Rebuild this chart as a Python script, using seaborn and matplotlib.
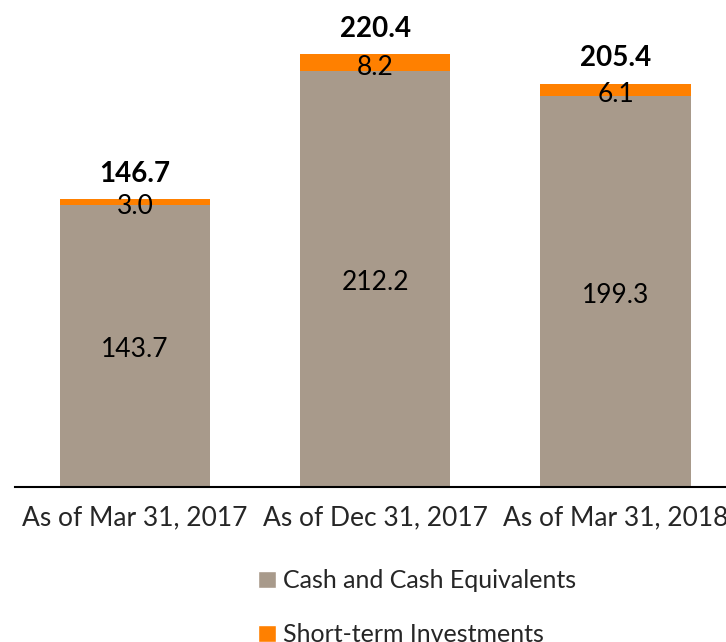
import matplotlib
matplotlib.use("Agg")
import matplotlib.pyplot as plt
import seaborn as sns
import pandas as pd
from matplotlib.patches import Patch

categories = ["As of Mar 31, 2017", "As of Dec 31, 2017", "As of Mar 31, 2018"]
cash = [143.7, 212.2, 199.3]
short_term = [3.0, 8.2, 6.1]
totals = [146.7, 220.4, 205.4]

cash_color = "#A89A8B"
st_color = "#FF8000"

sns.set_style("white")
plt.rcParams["font.family"] = ["Lato", "DejaVu Sans"]

df = pd.DataFrame({"period": categories, "cash": cash, "short_term": short_term, "total": totals})

fig = plt.figure(figsize=(7.26, 6.42), dpi=100)
ax = fig.add_axes([14.75 / 726, 155 / 642, 721 / 726, 471 / 642])

sns.barplot(data=df, x="period", y="total", color=st_color, width=0.625, saturation=1,
            linewidth=0, ax=ax)
sns.barplot(data=df, x="period", y="cash", color=cash_color, width=0.625, saturation=1,
            linewidth=0, ax=ax)

for i in range(len(categories)):
    ax.text(i, cash[i] / 2 - 2, f"{cash[i]:.1f}", ha="center", va="center", fontsize=19, color="black")
    ax.text(i, cash[i] + short_term[i] / 2 - 2.5, f"{short_term[i]:.1f}", ha="center", va="center", fontsize=19, color="black")
    ax.text(i, totals[i] + 13, f"{totals[i]:.1f}", ha="center", va="center", fontsize=20, fontweight="bold", color="black")

ax.set_xlim(-0.5, 2.5)
ax.set_ylim(0, 240)
ax.set_xlabel("")
ax.set_ylabel("")
ax.set_yticks([])
ax.tick_params(axis="x", length=0, pad=13, labelsize=19)
for s in ["top", "right", "left"]:
    ax.spines[s].set_visible(False)
ax.spines["bottom"].set_color("black")
ax.spines["bottom"].set_linewidth(1.5)

handles = [Patch(facecolor=cash_color, label="Cash and Cash Equivalents"),
           Patch(facecolor=st_color, label="Short-term Investments")]
fig.legend(handles=handles, loc="upper left", bbox_to_anchor=(258 / 726, 1 - 569 / 642),
           frameon=False, fontsize=18, handlelength=0.7, handleheight=0.7,
           handletextpad=0.3, labelspacing=1.25, borderpad=0, borderaxespad=0)

fig.savefig("out.png", dpi=100)
